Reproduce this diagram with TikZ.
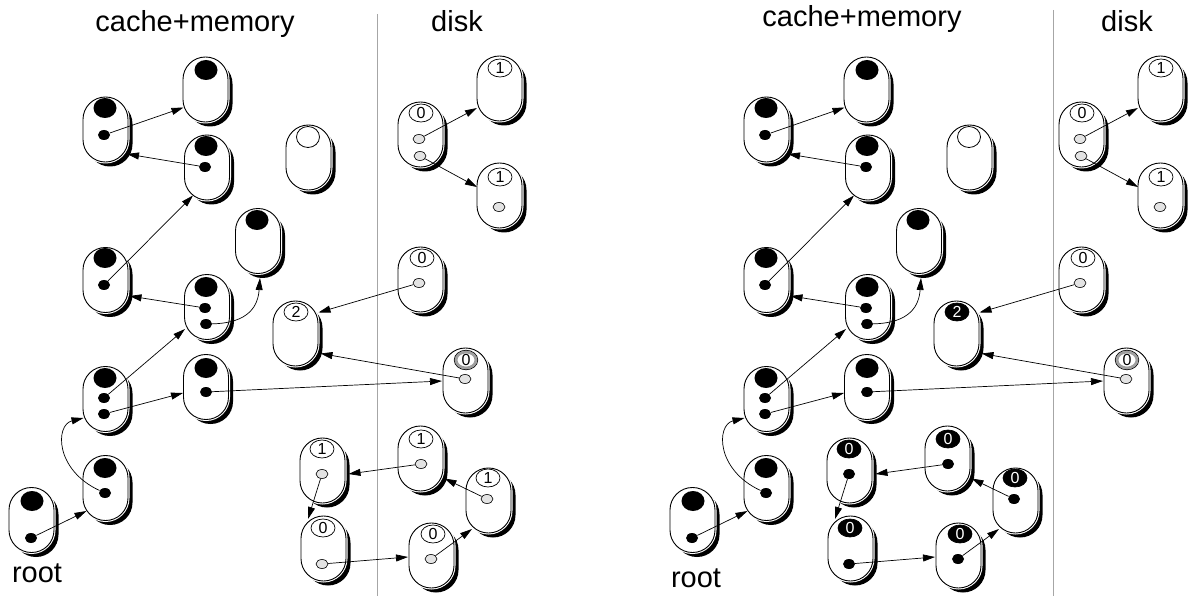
\documentclass[tikz,border=0pt]{standalone}
\usepackage{fontspec}
\setmainfont{Liberation Sans}
\usetikzlibrary{shapes.geometric,shadows,arrows.meta}
\tikzset{
  capsule/.style={rectangle, rounded corners=22.4pt, minimum width=45pt, minimum height=65pt,
    inner sep=0pt, fill=white, draw=black, line width=0.9pt,
    drop shadow={shadow xshift=4.5pt,shadow yshift=-4.5pt,fill=black,opacity=1},
    preaction={draw=white,line width=3pt}},
  bigdot/.style={ellipse, fill=black, minimum width=23pt, minimum height=20pt, inner sep=0pt},
  smdot/.style={ellipse, fill=black, minimum width=12pt, minimum height=10pt, inner sep=0pt},
  gdot/.style={ellipse, draw=black, line width=0.6pt, fill=gray!22, minimum width=12pt, minimum height=9pt, inner sep=0pt},
  wdot/.style={ellipse, draw=black, line width=0.8pt, fill=white, minimum width=23pt, minimum height=21pt, inner sep=0pt},
  lab/.style={ellipse, draw=black, line width=0.7pt, fill=white, minimum width=24pt, minimum height=18pt,
    inner sep=0pt, font=\fontsize{16}{16}\selectfont},
  blab/.style={lab, fill=black, text=white},
  glab/.style={lab, draw=gray!75, line width=2.8pt, minimum width=20pt, minimum height=15pt,
    preaction={draw=black,line width=4.2pt}},
  arr/.style={-{Triangle[length=12pt,width=7pt]}, line width=0.7pt},
  title/.style={font=\fontsize{29}{34}\selectfont, inner sep=0pt, anchor=base},
  divider/.style={draw=gray!70, line width=0.8pt}
}
% #1 prefix, #2 main shift, #3 lower shift, #4 style of label 2,
% #5 style of lower labels, #6 style of lower dots, #7 #8 #9 digits of L1 L3 L4
\newcommand\drawpanel[9]{%
\begin{scope}[xshift=#2]
  % cache + memory side
  \node[capsule] (#1R) at (31.5,520) {};
  \node[bigdot] (#1Rb) at (32,501) {};
  \node[smdot] (#1Rs) at (31,538) {};
  \node[capsule] (#1N9) at (105.5,488) {};
  \node[bigdot] (#1N9b) at (105,468) {};
  \node[smdot] (#1N9s) at (105,493) {};
  \node[capsule] (#1N7) at (105.5,399) {};
  \node[bigdot] (#1N7b) at (105,378) {};
  \node[smdot] (#1N7s1) at (104,398) {};
  \node[smdot] (#1N7s2) at (104,414) {};
  \node[capsule] (#1N8) at (206,387) {};
  \node[bigdot] (#1N8b) at (206,368) {};
  \node[smdot] (#1N8s) at (206,392) {};
  \node[capsule] (#1N4) at (105.5,280) {};
  \node[bigdot] (#1N4b) at (105,258) {};
  \node[smdot] (#1N4s) at (104,285) {};
  \node[capsule] (#1N6) at (207,307) {};
  \node[bigdot] (#1N6b) at (206,287) {};
  \node[smdot] (#1N6s1) at (205,308) {};
  \node[smdot] (#1N6s2) at (206,324) {};
  \node[capsule] (#1N5) at (258,241) {};
  \node[bigdot] (#1N5b) at (257,220) {};
  \node[capsule] (#1N2) at (105.5,129.5) {};
  \node[bigdot] (#1N2b) at (105,108) {};
  \node[smdot] (#1N2s) at (104,135) {};
  \node[capsule] (#1N3) at (207,167.5) {};
  \node[bigdot] (#1N3b) at (206,146) {};
  \node[smdot] (#1N3s) at (205,167) {};
  \node[capsule] (#1N1) at (205.5,89.5) {};
  \node[bigdot] (#1N1b) at (206,70) {};
  \node[capsule] (#1N10) at (308.5,157.5) {};
  \node[wdot] (#1N10w) at (308,137) {};
  \node[capsule] (#1N11) at (295.5,333.5) {};
  \node[#4] (#1N11l) at (296,312) {2};
  % disk side
  \node[capsule] (#1D1) at (420.5,134.5) {};
  \node[lab] (#1D1l) at (421,113) {0};
  \node[gdot] (#1D1s1) at (419,139) {};
  \node[gdot] (#1D1s2) at (420,156) {};
  \node[capsule] (#1D2) at (499.5,88.5) {};
  \node[lab] (#1D2l) at (500,68) {1};
  \node[capsule] (#1D3) at (499.5,195.5) {};
  \node[lab] (#1D3l) at (500,177) {1};
  \node[gdot] (#1D3s) at (499,207) {};
  \node[capsule] (#1D4) at (420.5,279.5) {};
  \node[lab] (#1D4l) at (422,258) {0};
  \node[gdot] (#1D4s) at (419,283) {};
  \node[capsule] (#1D5) at (465.5,380.5) {};
  \node[glab] (#1D5l) at (466,360) {0};
  \node[gdot] (#1D5s) at (465,379) {};
  % connectors
  \draw[arr] (#1N2s) -- ([xshift=-22pt,yshift=-18pt]#1N1.center);
  \draw[arr] (#1N3s) -- ([xshift=21.5pt,yshift=-24.5pt]#1N2.center);
  \draw[arr] (#1N4s) -- ([xshift=-14pt,yshift=-28pt]#1N3.center);
  \draw[arr] (#1N6s1) -- ([xshift=24pt,yshift=-16pt]#1N4.center);
  \draw[arr] (#1N6s2) .. controls (250,323) and (258,305) .. ([xshift=2pt,yshift=-37pt]#1N5.center);
  \draw[arr] (#1N7s1) -- ([xshift=-22pt,yshift=-22pt]#1N6.center);
  \draw[arr] (#1N7s2) -- ([xshift=-23pt,yshift=-6pt]#1N8.center);
  \draw[arr] (#1N8s) -- ([xshift=-23.5pt,yshift=-0.5pt]#1D5.center);
  \draw[arr] (#1N9s) .. controls (55,470) and (55,425) .. ([xshift=-22pt,yshift=-19pt]#1N7.center);
  \draw[arr] (#1Rs) -- ([xshift=-19pt,yshift=-23pt]#1N9.center);
  \draw[arr] (#1D1s1) -- ([xshift=-22.5pt,yshift=-19.5pt]#1D2.center);
  \draw[arr] (#1D1s2) -- ([xshift=-22.5pt,yshift=8.5pt]#1D3.center);
  \draw[arr] (#1D4s) -- ([xshift=23pt,yshift=21pt]#1N11.center);
  \draw[arr] (#1D5s) -- ([xshift=25pt,yshift=-20pt]#1N11.center);
\end{scope}
\begin{scope}[xshift=#3]
  \node[capsule] (#1L1) at (322.5,470.5) {};
  \node[#5] (#1L1l) at (322,449) {#7};
  \node[#6] (#1L1s) at (322,474) {};
  \node[capsule] (#1L2) at (323.5,548.5) {};
  \node[#5] (#1L2l) at (323,528) {0};
  \node[#6] (#1L2s) at (322,564) {};
  \node[capsule] (#1L3) at (420.5,458.5) {};
  \node[#5] (#1L3l) at (421,439) {#8};
  \node[#6] (#1L3s) at (421,464) {};
  \node[capsule] (#1L4) at (488.5,500.5) {};
  \node[#5] (#1L4l) at (488,478) {#9};
  \node[#6] (#1L4s) at (487,499) {};
  \node[capsule] (#1L5) at (431.5,555.5) {};
  \node[#5] (#1L5l) at (433,534) {0};
  \node[#6] (#1L5s) at (431,559) {};
  \draw[arr] (#1L1s) -- ([xshift=-15.5pt,yshift=29.5pt]#1L2.center);
  \draw[arr] (#1L3s) -- ([xshift=26pt,yshift=-3.5pt]#1L1.center);
  \draw[arr] (#1L4s) -- ([xshift=24pt,yshift=-20pt]#1L3.center);
  \draw[arr] (#1L2s) -- ([xshift=-23.5pt,yshift=-1.5pt]#1L5.center);
  \draw[arr] (#1L5s) -- ([xshift=-16.5pt,yshift=-28.5pt]#1L4.center);
\end{scope}
}
\begin{document}
\begin{tikzpicture}[x=1pt,y=-1pt]
\useasboundingbox (0,0) rectangle (1195,596);
\draw[divider] (377,14) -- (377,596);
\draw[divider] (1053,10) -- (1053,596);
\node[title] (t1) at (195,32) {cache+memory};
\node[title] (t2) at (457,32) {disk};
\node[title] (t3) at (37,582) {root};
\node[title] (t4) at (862,27) {cache+memory};
\node[title] (t5) at (1127,32) {disk};
\node[title] (t6) at (696,587) {root};
\drawpanel{a}{0}{0}{lab}{lab}{gdot}{1}{1}{1}
\drawpanel{b}{661}{527}{blab}{blab}{smdot}{0}{0}{0}
\end{tikzpicture}
\end{document}
